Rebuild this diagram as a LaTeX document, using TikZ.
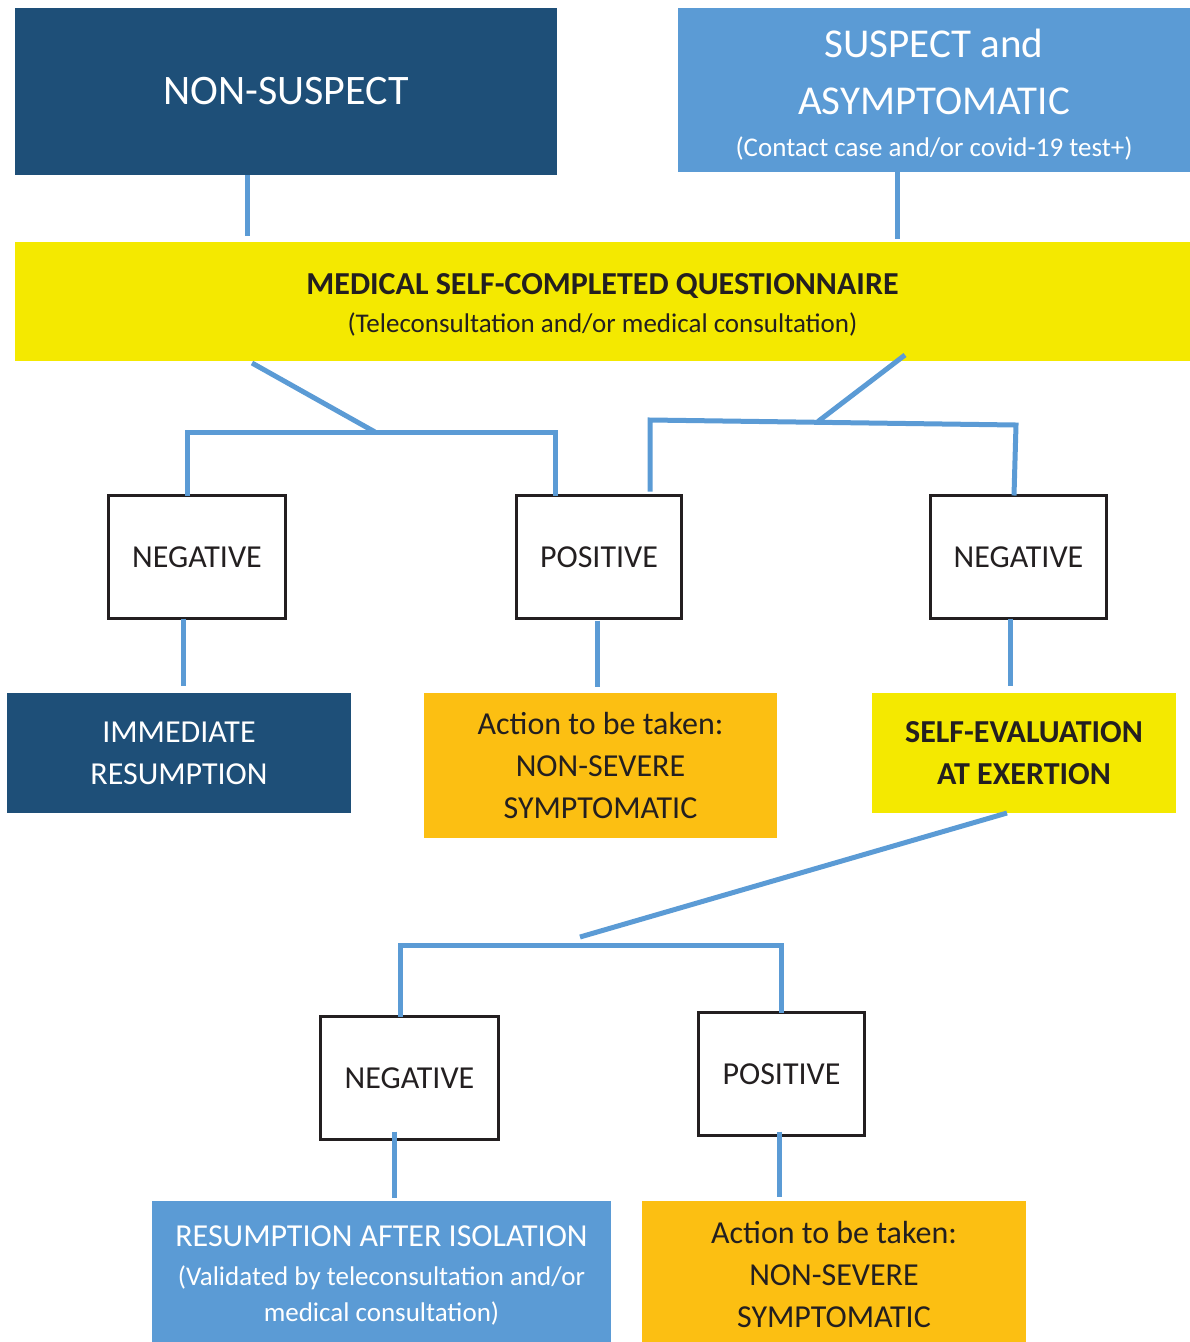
\documentclass[tikz,border=0pt]{standalone}
\usepackage{fontspec}
\setmainfont{Carlito}
\usetikzlibrary{calc}
\definecolor{dblue}{HTML}{1E4F78}
\definecolor{lblue}{HTML}{5B9BD5}
\definecolor{ylw}{HTML}{F4E900}
\definecolor{orng}{HTML}{FCBF12}
\definecolor{ink}{HTML}{231F20}
\tikzset{
  every node/.style={inner sep=0pt, outer sep=0pt, align=center},
  filled/.style={rectangle, draw=none},
  darkbox/.style={filled, fill=dblue, text=white},
  lightbox/.style={filled, fill=lblue, text=white},
  yelbox/.style={filled, fill=ylw, text=ink},
  orbox/.style={filled, fill=orng, text=ink},
  resbox/.style={rectangle, draw=ink, line width=3pt, fill=white, text=ink,
     font=\fontsize{32}{38}\selectfont},
  conn/.style={draw=lblue, line width=5pt},
  mid/.style={font=\fontsize{32}{42}\selectfont},
}
\newcommand{\smallfs}{\fontsize{27}{36}\selectfont}
\begin{document}
\begin{tikzpicture}[x=1pt,y=-1pt]
\useasboundingbox (0,0) rectangle (1190,1342);
% top boxes
\node[darkbox, minimum width=542pt, minimum height=167pt, font=\fontsize{42}{50}\selectfont] (ns) at (286,91.5) {NON-SUSPECT};
\node[lightbox, minimum width=512pt, minimum height=164pt, font=\fontsize{41}{57}\selectfont] (sa) at (934,90) {};
\node[font=\fontsize{41}{57}\selectfont, text=white] (satext) at (934,94.5)
 {SUSPECT and\\ASYMPTOMATIC\\[-15pt]\smallfs (Contact case and/or covid-19 test+)};
% questionnaire
\node[yelbox, minimum width=1175pt, minimum height=119pt] (q) at (602.5,301.5) {};
\node[font=\fontsize{32}{38}\selectfont, text=ink] (qtext) at (602.5,304.5)
 {\bfseries MEDICAL SELF-COMPLETED QUESTIONNAIRE\\\smallfs (Teleconsultation and/or medical consultation)};
% result boxes row 1
\node[resbox, minimum width=177pt, minimum height=123pt] (n1) at (197,557) {NEGATIVE};
\node[resbox, minimum width=165pt, minimum height=123pt] (p1) at (599,557) {POSITIVE};
\node[resbox, minimum width=176pt, minimum height=123pt] (n2) at (1018.5,557) {NEGATIVE};
% outcome row 1
\node[darkbox, mid, minimum width=344pt, minimum height=120pt] (ir) at (179,753) {IMMEDIATE\\RESUMPTION};
\node[orbox, mid, minimum width=353pt, minimum height=145pt] (a1) at (600.5,765.5) {Action to be taken:\\NON-SEVERE\\SYMPTOMATIC};
\node[yelbox, minimum width=304pt, minimum height=120pt, font=\fontsize{32}{42}\selectfont\bfseries] (se) at (1024,753) {SELF-EVALUATION\\AT EXERTION};
% result boxes row 2
\node[resbox, minimum width=178pt, minimum height=123pt] (n3) at (409.5,1078) {NEGATIVE};
\node[resbox, minimum width=166pt, minimum height=123pt] (p3) at (781.5,1074) {POSITIVE};
% outcome row 2
\node[lightbox, minimum width=459pt, minimum height=141pt] (ra) at (381.5,1271.5) {};
\node[font=\fontsize{32}{36}\selectfont, text=white] (ratext) at (381.5,1275)
 {RESUMPTION AFTER ISOLATION\\[3pt]\smallfs (Validated by teleconsultation and/or\\\smallfs medical consultation)};
\node[orbox, minimum width=384pt, minimum height=141pt] (a2) at (834,1271.5) {};
\node[mid, text=ink] (a2text) at (834,1274.5) {Action to be taken:\\NON-SEVERE\\SYMPTOMATIC};
% junction coordinates
\coordinate (jl) at (375,432);
\coordinate (jr) at (818,421.5);
\coordinate (jb) at (580,937);
% connectors
\draw[conn] (ns.south -| 247,0) -- ($(q.north -| 247,0)+(0,-6)$);
\draw[conn] (sa.south -| 897,0) -- ($(q.north -| 897,0)+(0,-3)$);
\draw[conn] ($(q.south -| 252,0)+(0,2)$) -- (jl);
\draw[conn] (n1.north -| 187,0) -- (187,432) -- (555,432) -- (p1.north -| 555,0);
\draw[conn] ($(q.south -| 905,0)+(0,-6)$) -- (jr);
\draw[conn] ($(p1.north -| 650,0)+(0,-4)$) -- (650,420) -- (1016,425) -- (n2.north -| 1014,0);
\draw[conn] (n1.south -| 183,0) -- ($(ir.north -| 183,0)+(0,-7)$);
\draw[conn] ($(p1.south -| 597,0)+(0,2)$) -- ($(a1.north -| 597,0)+(0,-6)$);
\draw[conn] (n2.south -| 1010,0) -- ($(se.north -| 1010,0)+(0,-7)$);
\draw[conn] (se.south -| 1007,0) -- (jb);
\draw[conn] (n3.north -| 400,0) -- (400,945) -- (781,945) -- (p3.north -| 781,0);
\draw[conn] ($(n3.south -| 394,0)+(0,-8)$) -- ($(ra.north -| 394,0)+(0,-3)$);
\draw[conn] ($(p3.south -| 779,0)+(0,-4)$) -- ($(a2.north -| 779,0)+(0,-4)$);
\end{tikzpicture}
\end{document}
